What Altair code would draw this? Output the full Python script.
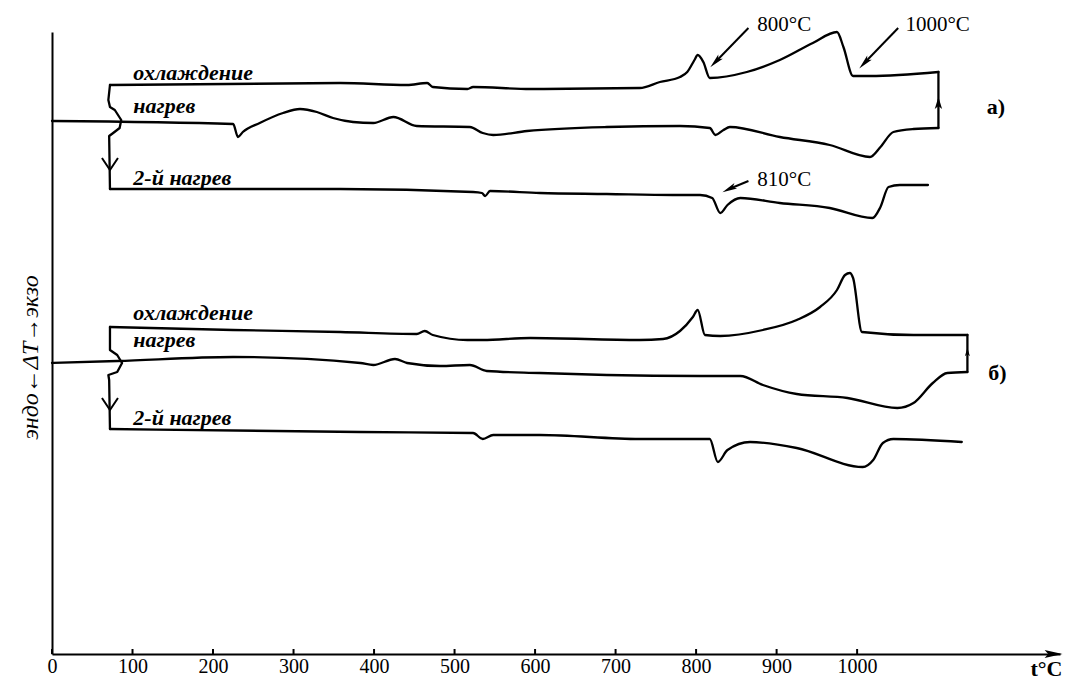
import altair as alt
import pandas as pd

FONT = "Liberation Serif"

# ---------------- panel а) ----------------
A_COOL_T = [72, 358, 441, 466, 473, 516, 523, 594, 730, 755, 780, 789, 798, 802, 809, 817, 863, 904, 945, 975, 983, 995, 1016, 1101]
A_COOL_V = [56.9, 57.1, 56.9, 57.1, 56.7, 56.5, 56.7, 56.5, 56.6, 57.2, 57.7, 58.2, 59.4, 59.9, 59.2, 57.6, 58.2, 59.4, 61.1, 62.2, 60.7, 57.8, 57.8, 58.2]

A_HEAT_T = [0, 225, 231, 237, 258, 287, 308, 329, 349, 374, 399, 424, 453, 519, 535, 548, 590, 689, 780, 817, 824, 834, 842, 904, 966, 1016, 1029, 1045, 1070, 1101]
A_HEAT_V = [53.3, 53.0, 51.7, 52.2, 53.1, 54.1, 54.5, 54.2, 53.6, 53.2, 53.1, 53.7, 52.8, 52.7, 52.1, 51.9, 52.3, 52.7, 52.8, 52.6, 51.9, 52.4, 52.7, 51.7, 50.9, 49.7, 50.7, 52.2, 52.5, 52.6]

A_HEAT2_T = [72, 358, 523, 534, 538, 544, 606, 689, 771, 805, 820, 830, 839, 855, 904, 966, 1019, 1029, 1039, 1053, 1088]
A_HEAT2_V = [46.5, 46.5, 46.2, 46.1, 45.8, 46.3, 46.1, 46.0, 45.9, 45.9, 45.6, 44.1, 44.9, 45.6, 45.1, 44.6, 43.6, 44.7, 46.7, 46.9, 46.9]

A_LINK_L_T = [72, 70, 72, 78, 86, 84, 76, 71, 72]
A_LINK_L_V = [56.9, 55.4, 54.7, 54.4, 53.4, 52.6, 52.1, 51.8, 46.5]
A_LINK_R_T = [1101, 1101]
A_LINK_R_V = [52.6, 58.2]

# ---------------- panel б) ----------------
B_COOL_T = [72, 225, 358, 453, 463, 473, 516, 535, 594, 730, 759, 780, 796, 802, 811, 830, 883, 925, 954, 975, 985, 991, 995, 1006, 1070, 1137]
B_COOL_V = [32.7, 32.4, 32.2, 32.0, 32.3, 31.9, 31.4, 31.4, 31.6, 31.4, 31.5, 32.3, 33.7, 34.4, 31.9, 31.8, 32.4, 33.4, 34.7, 36.4, 37.9, 38.1, 37.6, 32.2, 31.9, 31.9]

B_HEAT_T = [0, 81, 225, 383, 399, 426, 441, 482, 519, 540, 606, 689, 805, 855, 883, 925, 988, 1050, 1070, 1094, 1112, 1137]
B_HEAT_V = [29.1, 29.3, 29.7, 29.1, 28.9, 29.5, 29.1, 28.8, 28.9, 28.3, 28.1, 27.9, 27.8, 27.8, 26.9, 26.0, 25.6, 24.6, 25.1, 27.1, 28.1, 28.2]

B_HEAT2_T = [72, 383, 523, 535, 548, 606, 730, 817, 827, 839, 867, 925, 1007, 1020, 1032, 1045, 1130]
B_HEAT2_V = [22.5, 22.2, 22.1, 21.5, 21.9, 21.9, 21.5, 21.5, 19.2, 20.4, 21.2, 20.6, 18.7, 19.4, 21.1, 21.5, 21.2]

B_LINK_L_T = [72, 72, 81, 87, 81, 70, 71, 72]
B_LINK_L_V = [32.7, 30.4, 29.9, 29.1, 28.2, 27.9, 27.4, 22.5]
B_LINK_R_T = [1137, 1137]
B_LINK_R_V = [28.2, 31.9]

# ---------------- axis / text ----------------
X_TICKS = [0, 100, 200, 300, 400, 500, 600, 700, 800, 900, 1000]
X_MAX = 1252
Y_MAX = 62.2

CURVE_LABELS = ["охлаждение", "нагрев", "2-й нагрев", "охлаждение", "нагрев", "2-й нагрев"]
CURVE_LABEL_T = [101, 101, 101, 101, 101, 101]
CURVE_LABEL_V = [57.4, 54.1, 46.9, 33.4, 30.7, 22.9]

NOTE_TEXT = ["800°C", "1000°C", "810°C"]
NOTE_T = [876, 1060, 876]
NOTE_V = [62.9, 62.9, 47.4]
NOTE_TAIL_T = [865, 1051, 865]
NOTE_TAIL_V = [62.6, 62.6, 47.3]
NOTE_HEAD_T = [824, 1009, 841]
NOTE_HEAD_V = [59.2, 59.1, 46.5]
NOTE_ANGLE = [224, 223.5, 244]

PANEL_TEXT = ["а)", "б)"]
PANEL_T = [1161, 1163]
PANEL_V = [54.7, 28.1]

DOWN_ARROW_T = [72, 72]
DOWN_ARROW_V = [49.0, 25.0]
UP_ARROW_T = [1101, 1137]
UP_ARROW_V = [55.1, 30.2]
UP_ARROW_SIZE = [150, 70]


def frame(name, ts, vs):
    return pd.DataFrame({"T": ts, "V": vs, "curve": name, "k": list(range(len(ts)))})


curves = pd.concat([
    frame("a_cool", A_COOL_T, A_COOL_V),
    frame("a_heat", A_HEAT_T, A_HEAT_V),
    frame("a_heat2", A_HEAT2_T, A_HEAT2_V),
    frame("b_cool", B_COOL_T, B_COOL_V),
    frame("b_heat", B_HEAT_T, B_HEAT_V),
    frame("b_heat2", B_HEAT2_T, B_HEAT2_V),
], ignore_index=True)

links = pd.concat([
    frame("a_link_l", A_LINK_L_T, A_LINK_L_V),
    frame("a_link_r", A_LINK_R_T, A_LINK_R_V),
    frame("b_link_l", B_LINK_L_T, B_LINK_L_V),
    frame("b_link_r", B_LINK_R_T, B_LINK_R_V),
], ignore_index=True)

segs = []
for i in range(len(NOTE_TEXT)):
    segs.append({"T": NOTE_TAIL_T[i], "V": NOTE_TAIL_V[i], "curve": f"n{i}", "k": 0})
    segs.append({"T": NOTE_HEAD_T[i], "V": NOTE_HEAD_V[i], "curve": f"n{i}", "k": 1})
segs = pd.DataFrame(segs)

heads = pd.DataFrame({"T": NOTE_HEAD_T, "V": NOTE_HEAD_V, "ang": NOTE_ANGLE})
notes = pd.DataFrame({"T": NOTE_T, "V": NOTE_V, "text": NOTE_TEXT})
labels = pd.DataFrame({"T": CURVE_LABEL_T, "V": CURVE_LABEL_V, "text": CURVE_LABELS})
panels = pd.DataFrame({"T": PANEL_T, "V": PANEL_V, "text": PANEL_TEXT})
downs = pd.DataFrame({"T": DOWN_ARROW_T, "V": DOWN_ARROW_V})
ups = pd.DataFrame({"T": UP_ARROW_T, "V": UP_ARROW_V, "s": UP_ARROW_SIZE})
ticks = pd.DataFrame({"T": X_TICKS, "V": [0] * len(X_TICKS), "V2": [0.5] * len(X_TICKS)})
axis_end = pd.DataFrame({"T": [X_MAX - 8], "V": [0]})

X = alt.X(
    "T:Q",
    scale=alt.Scale(domain=[0, X_MAX], nice=False, zero=False),
    axis=alt.Axis(
        values=X_TICKS, format="d", grid=False, ticks=False,
        domainColor="black", domainWidth=2,
        labelFont=FONT, labelFontSize=20, labelColor="black", labelPadding=2,
        labelFlush=False,
        title="t°C", titleFont=FONT, titleFontSize=22, titleFontWeight="bold",
        titleColor="black", titleX=1010, titleY=14, titleAlign="right",
        titleBaseline="middle", titleAnchor="end",
    ),
)
Y = alt.Y(
    "V:Q",
    scale=alt.Scale(domain=[0, Y_MAX], nice=False, zero=True),
    axis=alt.Axis(
        grid=False, ticks=False, labels=False,
        domainColor="black", domainWidth=2,
        title="эндо←ΔT→экзо", titleFont=FONT, titleFontSize=24,
        titleFontStyle="italic", titleFontWeight="normal", titleColor="black",
        titleAngle=270, titleX=-22, titleY=325, titleAlign="center",
        titleBaseline="middle",
    ),
)

main_lines = alt.Chart(curves).mark_line(
    color="black", strokeWidth=2.3, strokeJoin="round", strokeCap="round",
    interpolate="monotone"
).encode(x=X, y=Y, detail="curve:N", order="k:Q")

link_lines = alt.Chart(links).mark_line(
    color="black", strokeWidth=2.3, strokeJoin="round", strokeCap="round",
    interpolate="linear"
).encode(x=X, y=Y, detail="curve:N", order="k:Q")

note_lines = alt.Chart(segs).mark_line(color="black", strokeWidth=2).encode(
    x=X, y=Y, detail="curve:N", order="k:Q"
)

note_heads = alt.Chart(heads).mark_point(
    shape="M0,-1L0.42,1L0,0.55L-0.42,1Z", filled=True, color="black", opacity=1, size=220
).encode(x=X, y=Y, angle=alt.Angle("ang:Q", scale=None))

down_arrows = alt.Chart(downs).mark_point(
    shape="M-1,-0.75L0,0.75L1,-0.75", filled=False, color="black", strokeWidth=2,
    opacity=1, size=256
).encode(x=X, y=Y)

up_arrows = alt.Chart(ups).mark_point(
    shape="M0,-1L0.6,1L0,0.5L-0.6,1Z", filled=True, color="black", opacity=1
).encode(x=X, y=Y, size=alt.Size("s:Q", scale=None, legend=None))

tick_marks = alt.Chart(ticks).mark_rule(color="black", strokeWidth=2).encode(
    x=X, y=Y, y2="V2:Q"
)

end_arrow = alt.Chart(axis_end).mark_point(
    shape="M-1,-0.45L1,0L-1,0.45L-0.6,0Z", filled=True, color="black", opacity=1, size=320
).encode(x=X, y=Y)

note_text = alt.Chart(notes).mark_text(
    font=FONT, fontSize=21, color="black", align="left", baseline="middle"
).encode(x=X, y=Y, text="text:N")

label_text = alt.Chart(labels).mark_text(
    font=FONT, fontSize=22, fontStyle="italic", fontWeight="bold", color="black",
    align="left", baseline="alphabetic"
).encode(x=X, y=Y, text="text:N")

panel_text = alt.Chart(panels).mark_text(
    font=FONT, fontSize=22, fontWeight="bold", color="black", align="left",
    baseline="middle"
).encode(x=X, y=Y, text="text:N")

chart = alt.layer(
    main_lines, link_lines, note_lines, note_heads, down_arrows, up_arrows,
    tick_marks, end_arrow, note_text, label_text, panel_text
).properties(
    width=1008, height=622,
    autosize=alt.AutoSizeParams(type="none"),
    padding={"left": 44, "top": 24, "right": 5, "bottom": 25},
    background="white",
).configure_view(stroke=None)

chart.save("out.html", embed_options={"renderer": "svg", "actions": False})
